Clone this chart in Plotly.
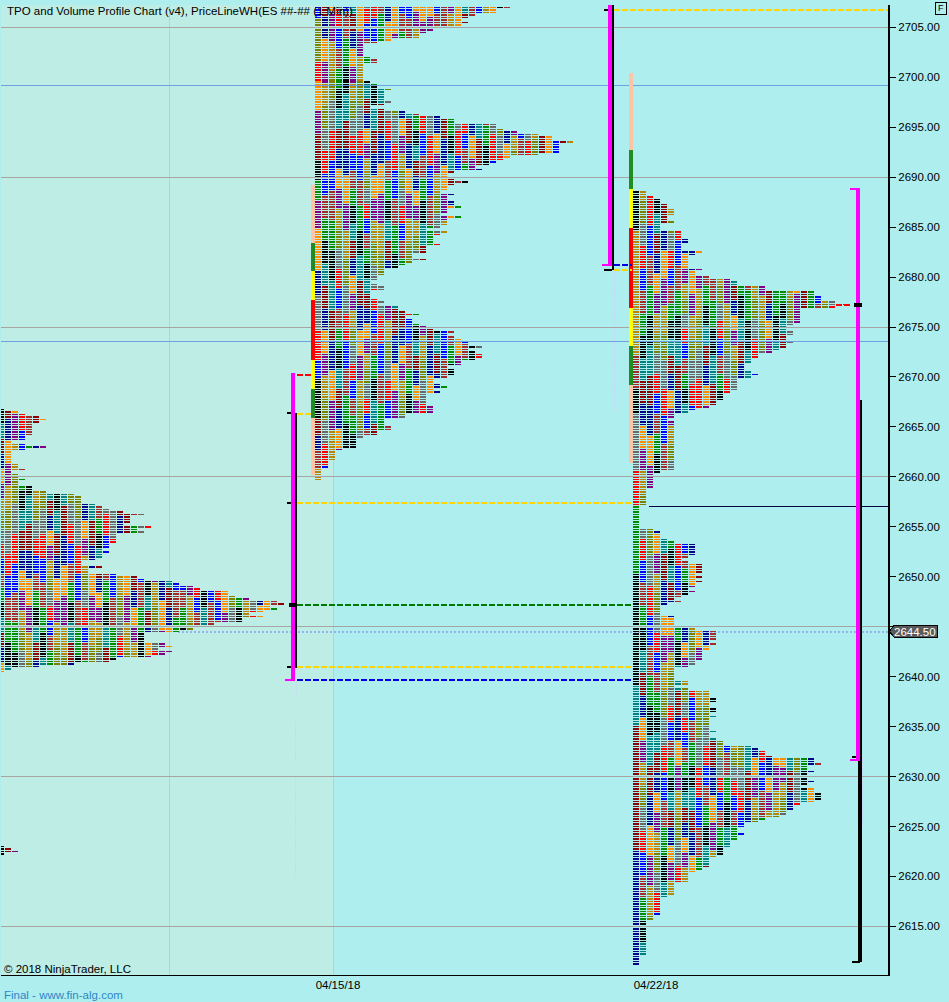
import plotly.graph_objects as go

# ---------- data ----------
P1_TOP = 2666.75
P1_COUNTS = [1,3,4,6,7,6,5,5,5,5,5,4,4,2,4,7,4,2,2,2,2,2,3,3,4,2,3,3,4,3,3,5,5,7,11,12,12,12,14,15,16,18,21,19,19,19,18,22,20,21,17,17,17,17,16,16,15,16,15,15,14,12,12,15,13,13,17,20,21,25,26,28,29,33,33,34,36,40,41,39,40,38,36,38,35,35,31,31,28,26,21,21,21,21,24,25,23,25,24,22,17,16,11,6,2,1]
P1B_TOP = 2623.0
P1B_COUNTS = [1,2,3,1]

P2_TOP = 2707.0
P2_COUNTS = [28,26,26,23,22,21,22,21,19,17,16,15,15,11,9,7,7,7,7,7,8,9,9,7,7,7,7,7,7,7,8,9,9,11,10,10,10,10,11,10,8,10,13,15,18,20,20,26,26,27,29,32,34,34,37,35,35,35,35,32,28,27,26,25,23,24,20,19,19,20,22,20,19,19,
 18,20,19,19,20,20,21,19,19,18,21,19,19,19,18,16,19,18,17,17,17,18,16,16,16,14,14,16,14,13,12,10,10,10,9,9,8,9,10,10,8,8,8,9,10,9,12,12,13,15,13,14,14,15,16,17,20,19,20,21,22,22,24,22,23,24,24,23,21,21,19,20,20,20,19,17,17,18,19,17,18,16,16,16,16,16,17,17,17,13,13,10,10,10,11,11,9,9,7,6,6,6,6,4,3,3,3,3,2,2,2,1,1,1,1,1]

P3_TOP = 2688.5
P3_COUNTS = [2,2,3,4,4,5,5,6,6,6,5,5,6,4,4,4,7,7,7,8,8,7,7,7,10,9,8,8,8,8,8,10,9,9,11,14,15,15,19,19,26,26,27,27,29,31,29,24,24,24,24,24,24,23,22,22,23,23,22,22,23,22,22,21,20,18,18,17,17,16,16,16,
 17,18,17,15,15,15,15,15,14,13,13,13,12,12,11,9,8,6,6,5,6,6,6,6,6,6,6,6,6,6,6,6,6,6,6,6,6,6,6,6,4,3,3,3,3,3,3,2,2,2,2,2,2,2,1,1,1,1,1,1,1,1,1,3,4,4,4,5,6,9,9,9,9,9,8,7,8,10,10,10,10,9,10,9,10,9,9,8,9,8,7,6,7,5,4,4,4,4,6,6,6,6,8,9,12,12,12,12,11,12,11,11,10,10,10,10,9,9,8,
 6,6,6,6,6,8,8,6,8,11,11,11,12,12,11,11,12,12,11,12,11,11,11,11,11,12,11,11,12,13,13,17,18,19,19,20,26,26,27,25,25,26,25,25,25,26,
 25,24,26,26,27,27,27,26,24,23,23,22,22,21,19,18,16,16,15,15,16,15,15,14,14,14,13,13,13,12,11,11,11,11,10,9,8,8,8,8,6,6,6,6,6,5,4,4,4,4,4,4,4,3,3,2,2,2,2,2,2,2,2,2,2,2,2,2,2,1,1,1,1]

GRID_GREY = [2705, 2690, 2675, 2660, 2645, 2630, 2615]
GRID_BLUE = [2699.2, 2673.55]
Y_TICKS = [2615, 2620, 2625, 2630, 2635, 2640, 2645, 2650, 2655, 2660, 2665, 2670, 2675, 2680, 2685, 2690, 2695, 2700, 2705]
DATE_LABELS = ["04/15/18", "04/22/18"]
CURRENT_PRICE = 2644.5

# colour cycle of the periods, and first-column colour bands (lowest price of band, colour)
CYCLE = ["#000000", "#008080", "#8B0000", "#00008B", "#FF8C00", "#800080", "#B8860B", "#808000", "#696969", "#FF0000", "#0000FF", "#A52A2A", "#008B00"]
P2_FIRST = [(2705.8, "#0000FF"), (2701.7, "#808000"), (2699.7, "#FF0000"), (2696.7, "#FF8C00"), (2694.4, "#800080"), (2691.7, "#8B0000"), (2689.7, "#000000"), (2687.7, "#008B00"), (2685, "#800080"), (2680.7, "#FF8C00"), (2678.2, "#00008B"), (2674.7, "#696969"), (2671.7, "#FF0000"), (2670, "#0000FF"), (2666, "#000000"), (2664.2, "#8B0000"), (2662.7, "#00008B"), (2661, "#A52A2A"), (2650, "#B8860B")]
P3_FIRST = [(2684.7, "#000000"), (2672.2, "#B8860B"), (2668.9, "#A52A2A"), (2666.5, "#000000"), (2660.7, "#696969"), (2657.2, "#FF0000"), (2650.5, "#008B00"), (2639.2, "#000000"), (2635.2, "#008080"), (2622.7, "#8B0000"), (2600, "#00008B")]

PEACH, GREEN, YELLOW, RED = "#FFC4A6", "#228B22", "#FFFF00", "#FF0000"
P2_STRIP = [(2689.21, 2660.18, PEACH), (2683.41, 2680.6, GREEN), (2680.6, 2677.7, YELLOW), (2677.7, 2671.7, RED), (2671.7, 2668.8, YELLOW), (2668.8, 2665.9, GREEN)]
P3_STRIP = [(2700.43, 2661.4, PEACH), (2692.7, 2688.8, GREEN), (2688.8, 2684.9, YELLOW), (2684.9, 2676.9, RED), (2676.9, 2673.1, YELLOW), (2673.1, 2669.2, GREEN)]

# ---------- geometry ----------
W, H = 949, 1002
L, R, T, B = 1, 61, 5, 27
PX_PER_POINT = 9.99
YTOP = 2705 + (27.3 - T) / PX_PER_POINT
YBOT = 2705 - (H - B - 27.3) / PX_PER_POINT
CELL = 7

cells = {c: ([], []) for c in CYCLE}

def add_profile(top, counts, x0, first=None):
    for r, n in enumerate(counts):
        price = top - 0.25 * r
        for c in range(n):
            col = None
            if c == 0 and first:
                for low, fc in first:
                    if price >= low:
                        col = fc
                        break
            if col is None:
                run = 6 + (c * 3) % 7
                col = CYCLE[(2 * c + c // 3 + (r + 5 * c) // run + (top == P3_TOP) * 4) % 13]
            ys, xs = cells[col]
            ys.extend((price, price, None))
            left = x0 + CELL * c
            xs.extend((left, left + CELL - 1, None))

add_profile(P1_TOP, P1_COUNTS, -2)
add_profile(P1B_TOP, P1B_COUNTS, -2)
add_profile(P2_TOP, P2_COUNTS, 315, P2_FIRST)
add_profile(P3_TOP, P3_COUNTS, 633, P3_FIRST)

fig = go.Figure()
for col, (ys, xs) in cells.items():
    fig.add_trace(go.Scatter(x=xs, y=ys, mode="lines", line=dict(color=col, width=1.5, simplify=False),
                             hoverinfo="skip", showlegend=False, connectgaps=False))

shapes, annos = [], []

def rect(x0, x1, p0, p1, col, layer="above"):
    shapes.append(dict(type="rect", xref="x", yref="y", x0=x0, x1=x1, y0=p0, y1=p1, fillcolor=col,
                       line=dict(width=0), layer=layer))

def hline(x0, x1, p, col, width=1, dash="solid", layer="above"):
    shapes.append(dict(type="line", xref="x", yref="y", x0=x0, x1=x1, y0=p, y1=p,
                       line=dict(color=col, width=width, dash=dash), layer=layer))

def vline(x, p0, p1, col, width=1, dash="solid", layer="below"):
    shapes.append(dict(type="line", xref="x", yref="y", x0=x, x1=x, y0=p0, y1=p1,
                       line=dict(color=col, width=width, dash=dash), layer=layer))

# background shading and grid
rect(1, 333, YBOT, YTOP, "#BEEDE6", "below")
for x in (169, 333):
    vline(x, YBOT, YTOP, "#C4CCCB")
hline(178, 888, CURRENT_PRICE, "#93B6F0", 2, "2px,2px", "below")
for p in GRID_GREY:
    hline(1, 888, p, "#A8A4A4")
for p in GRID_BLUE:
    hline(1, 888, p, "#6FA0E2")

# faint trails
SOFT = "#C9D6F6"
for x, a, b in [(296, 2639.6, 2638), (295, 2635.8, 2631.5), (295, 2630, 2620), (614, 2680.7, 2666.5), (614, 2706.5, 2703), (615, 2694, 2690), (862, 2632, 2625)]:
    vline(x, a, b, SOFT, 1, "2px,1px")

# value-area strips
for strip, x0 in ((P2_STRIP, 311), (P3_STRIP, 629)):
    for hi, lo, c in strip:
        rect(x0, x0 + 4, lo, hi, c)

DASH = "6px,2px"
GOLD = "#FFD700"
hline(297, 312, 2670.2, "#FF0000", 2, DASH)
hline(297, 312, 2666.3, GOLD, 2, DASH)
hline(297, 632, 2657.4, GOLD, 2, DASH)
hline(297, 632, 2647.2, "#007A00", 2, DASH)
hline(297, 632, 2640.97, GOLD, 2, DASH)
hline(297, 632, 2639.67, "#0000E0", 2, DASH)
hline(614, 888, 2706.78, GOLD, 2, DASH)
hline(614, 632, 2681.2, "#0000E0", 2, DASH)
hline(614, 632, 2680.7, GOLD, 2, DASH)
hline(836, 851, 2677.25, "#FF0000", 2, DASH)
hline(649, 888, 2657.0, "#000040")

M, K = "#FF00FF", "#000000"
TH = 0.1
# week 1 range marks
rect(291, 295, 2639.6, 2670.4, M)
rect(295, 297, 2640.9, 2666.4, K)
rect(285, 295, TH * -1 + 2639.67, 2639.67 + TH, M)
rect(287, 291, 2666.4 - TH, 2666.4 + TH, K)
rect(287, 291, 2657.4 - TH, 2657.4 + TH, K)
rect(287, 291, 2640.97 - TH, 2640.97 + TH, K)
rect(289, 297, 2647.2 - 0.2, 2647.2 + 0.2, K)
# week 2 range marks
rect(608, 612, 2681.2, 2707.2, M)
rect(612, 614, 2680.7, 2707.2, K)
rect(602, 612, 2681.2 - TH, 2681.2 + TH, M)
rect(604, 612, 2680.7 - TH, 2680.7 + TH, K)
rect(604, 608, 2706.78 - TH, 2706.78 + TH, K)
# week 3 range marks
rect(856, 860, 2631.65, 2688.81, M)
rect(860, 862, 2631.65, 2667.7, K)
rect(858, 862, 2611.4, 2631.65, K)
rect(850, 860, 2688.81 - TH, 2688.81 + TH, M)
rect(850, 860, 2631.65 - TH, 2631.65 + TH, M)
rect(852, 856, 2632 - TH, 2632 + TH, K)
rect(852, 860, 2611.4 - TH, 2611.4 + TH, K)
rect(854, 862, 2677.25 - 0.2, 2677.25 + 0.2, K)

# page-level items in paper coordinates
PW, PH = W - L - R, H - T - B
px = lambda x: (x - L) / PW
py = lambda y: 1 - (y - T) / PH

TXT = "Liberation Sans, Arial, sans-serif"
def text(x, y, s, col="#000000", size=11.5, anchor="left"):
    annos.append(dict(xref="paper", yref="paper", x=px(x), y=py(y), text=s, showarrow=False, xanchor=anchor, yanchor="middle",
                      font=dict(family=TXT, size=size, color=col), xshift=0, yshift=0, borderpad=0))

shapes.append(dict(type="path", xref="paper", yref="paper", fillcolor="#5A5A5A", line=dict(color="#000000", width=1),
                   path=f"M{px(889.5)},{py(631.5)} L{px(894)},{py(625)} L{px(937)},{py(625)} L{px(937)},{py(637)} L{px(894)},{py(637)} Z"))
text(915.5, 631.5, f"{CURRENT_PRICE:.2f}", "#FFFFFF", 11.5, "center")
shapes.append(dict(type="rect", xref="paper", yref="paper", x0=px(935.5), x1=px(946.5), y0=py(14.5), y1=py(2.5),
                   fillcolor="rgba(0,0,0,0)", line=dict(color="#000000", width=1)))
text(941, 8.5, "F", "#000000", 9, "center")
text(6, 11, "TPO and Volume Profile Chart (v4), PriceLineWH(ES ##-## (1 Min))")
text(3, 969, "© 2018 NinjaTrader, LLC")
text(3, 995, "Final - www.fin-alg.com", "#2E86C8")

fig.update_layout(
    width=W, height=H, margin=dict(l=L, r=R, t=T, b=B, pad=0), autosize=False,
    paper_bgcolor="#AFEEEE", plot_bgcolor="#AFEEEE",
    font=dict(family=TXT, size=11.5, color="#000000"), showlegend=False,
    shapes=shapes, annotations=annos, hovermode=False,
    xaxis=dict(range=[L, W - R], showgrid=False, zeroline=False, showline=True, linecolor="#000000", linewidth=1,
               tickmode="array", tickvals=[338, 656], ticktext=DATE_LABELS, ticks="", fixedrange=True, ticklabelstandoff=-1),
    yaxis=dict(range=[YBOT, YTOP], side="right", showgrid=False, zeroline=False, showline=True, linecolor="#000000", linewidth=2,
               tickmode="array", tickvals=Y_TICKS, ticktext=["" if v == 2645 else f"{v:.2f}" for v in Y_TICKS], ticks="outside", ticklen=6,
               tickcolor="#000000", tickwidth=1, fixedrange=True),
)

POST = """
document.body.style.margin='0';document.body.style.background='#AFEEEE';document.body.style.overflow='hidden';
var st=document.createElement('style');
st.textContent='.scatterlayer .js-line{shape-rendering:crispEdges}.shapelayer path{shape-rendering:crispEdges}';
document.head.appendChild(st);
"""
fig.write_html("out.html", config=dict(displayModeBar=False), post_script=POST)
